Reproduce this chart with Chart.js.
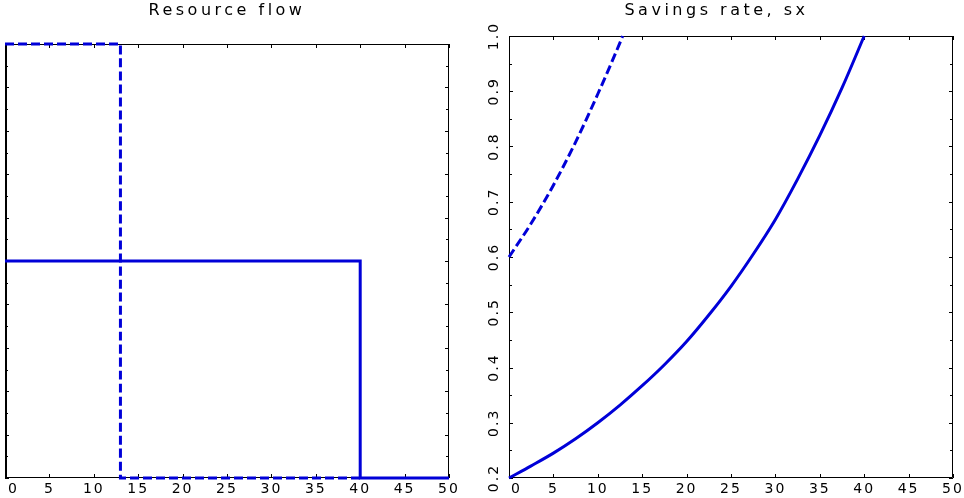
<!DOCTYPE html>
<html><head><meta charset="utf-8">
<script src="https://cdn.jsdelivr.net/npm/chart.js@4/dist/chart.umd.min.js"></script>
<style>
html,body{margin:0;padding:0;background:#fff;}
#c1{position:absolute;left:0;top:0;}
#c2{position:absolute;left:480px;top:0;}
</style></head><body>
<canvas id="c1" width="480" height="498"></canvas>
<canvas id="c2" width="484" height="498"></canvas>
<script>
// ---- data ----
const xTickLabels = [0, 5, 10, 15, 20, 25, 30, 35, 40, 45, 50];
const titleLeft = 'Resource flow';
const titleRight = 'Savings rate, sx';

const flowSolidX = [0, 40, 40, 50];
const flowSolidY = [0.5, 0.5, 0, 0];
const flowDashX = [0, 13, 13, 40];
const flowDashY = [1, 1, 0, 0];

const saveSolidX = [0, 2.5, 5, 7.5, 10, 12.5, 15, 17.5, 20, 22.5, 25, 27.5, 30, 32.5, 35, 37.5, 40];
const saveSolidY = [0.200, 0.222, 0.245, 0.271, 0.300, 0.332, 0.367, 0.405, 0.447, 0.495, 0.547, 0.605, 0.668, 0.741, 0.820, 0.906, 1.000];
const saveDashX = [0, 2.5, 5, 7.5, 10, 12.5, 12.8];
const saveDashY = [0.600, 0.661, 0.730, 0.808, 0.895, 0.988, 1.000];

const yTicksRight = [0.2, 0.3, 0.4, 0.5, 0.6, 0.7, 0.8, 0.9, 1.0];

const zip = (xs, ys) => xs.map((x, i) => ({x: x, y: ys[i]}));

const BLUE = '#0000d8';
const FONT = "'DejaVu Sans', sans-serif";

const framePlugin = {
  id: 'framePlugin',
  afterInit(chart) {
    const tb = chart.titleBlock;
    if (tb && !tb._wrapped) {
      const orig = tb.draw.bind(tb);
      tb.draw = function () {
        const c = chart.ctx; c.save(); c.letterSpacing = '3.5px'; orig(); c.restore();
      };
      tb._wrapped = true;
    }
  },
  beforeDraw(chart, args, opts) {
    chart.ctx.letterSpacing = '2px';
    // nudge the first x label to the right so it sits inside the frame, as in the reference
    const items = chart.scales.x.getLabelItems();
    if (items.length && !items[0]._nudged) {
      items[0].options.textAlign = 'left';
      items[0].options.translation[0] += (opts.firstShift || 2);
      items[0]._nudged = true;
    }
  },
  beforeDatasetsDraw(chart, args, opts) {
    const {ctx, chartArea: a, scales: {x, y}} = chart;
    ctx.save();
    ctx.strokeStyle = '#000';
    ctx.lineWidth = 1;
    const xt = x.ticks.map(t => t.value);
    for (const v of xt) {
      const px = Math.round(x.getPixelForValue(v)) + 0.5;
      ctx.beginPath();
      ctx.moveTo(px, a.bottom); ctx.lineTo(px, a.bottom - 4);
      ctx.moveTo(px, a.top); ctx.lineTo(px, a.top + 4);
      ctx.stroke();
    }
    const yt = y.ticks.map(t => t.value);
    const drawY = (v, len) => {
      const py = Math.round(y.getPixelForValue(v)) + 0.5;
      ctx.beginPath();
      ctx.moveTo(a.left, py); ctx.lineTo(a.left + len, py);
      ctx.moveTo(a.right, py); ctx.lineTo(a.right - len, py);
      ctx.stroke();
    };
    for (let i = 0; i < yt.length; i++) {
      drawY(yt[i], 4);
      if (i < yt.length - 1) drawY((yt[i] + yt[i + 1]) / 2, 3);
    }
    ctx.beginPath();
    ctx.moveTo(Math.round(a.left) + 0.5, Math.round(a.top) + 0.5);
    ctx.lineTo(Math.round(a.right) - 0.5, Math.round(a.top) + 0.5);
    ctx.lineTo(Math.round(a.right) - 0.5, Math.round(a.bottom) - 0.5);
    ctx.lineTo(Math.round(a.left) + 0.5, Math.round(a.bottom) - 0.5);
    ctx.closePath();
    ctx.stroke();
    if (opts.leftWidth) {
      ctx.lineWidth = opts.leftWidth;
      ctx.beginPath();
      ctx.moveTo(a.left + opts.leftWidth / 2, a.top);
      ctx.lineTo(a.left + opts.leftWidth / 2, a.bottom);
      ctx.stroke();
    }
    ctx.restore();
  }
};

function lineDs(data, dashed) {
  return {
    data: data,
    showLine: true,
    borderColor: BLUE,
    backgroundColor: BLUE,
    borderWidth: 3,
    borderDash: dashed ? [9, 4] : [],
    pointRadius: 0,
    cubicInterpolationMode: 'monotone',
    clip: false
  };
}

function xScale() {
  return {
    type: 'linear', min: 0, max: 50,
    afterBuildTicks: s => { s.ticks = xTickLabels.map(v => ({value: v})); },
    grid: {display: false, drawTicks: false}, border: {display: false},
    ticks: {color: '#000', font: {family: FONT, size: 14}, padding: 3, autoSkip: false, maxRotation: 0},
    afterFit: s => { s.height = 20; s.paddingLeft = 0; s.paddingRight = 0; }
  };
}

new Chart(document.getElementById('c1'), {
  type: 'scatter',
  data: {datasets: [lineDs(zip(flowSolidX, flowSolidY), false), lineDs(zip(flowDashX, flowDashY), true)]},
  options: {
    responsive: false, animation: false, devicePixelRatio: 1,
    layout: {padding: {left: 5, right: 31, top: 0, bottom: 0}},
    plugins: {
      legend: {display: false}, tooltip: {enabled: false},
      title: {display: true, text: titleLeft, color: '#000', font: {family: FONT, size: 16, weight: 'normal', lineHeight: 1.2}, padding: {top: 1, bottom: 23.8}},
      framePlugin: {leftWidth: 2, firstShift: 3}
    },
    scales: {
      x: xScale(),
      y: {
        type: 'linear', min: 0, max: 1,
        ticks: {display: false, stepSize: 0.1},
        grid: {display: false, drawTicks: false}, border: {display: false},
        afterFit: s => { s.width = 0; }
      }
    }
  },
  plugins: [framePlugin]
});

new Chart(document.getElementById('c2'), {
  type: 'scatter',
  data: {datasets: [lineDs(zip(saveSolidX, saveSolidY), false), lineDs(zip(saveDashX, saveDashY), true)]},
  options: {
    responsive: false, animation: false, devicePixelRatio: 1,
    layout: {padding: {left: 0, right: 11, top: 0, bottom: 0}},
    plugins: {
      legend: {display: false}, tooltip: {enabled: false},
      title: {display: true, text: titleRight, color: '#000', font: {family: FONT, size: 16, weight: 'normal', lineHeight: 1.2}, padding: {top: 1, bottom: 15.8}},
      framePlugin: {firstShift: 2}
    },
    scales: {
      x: xScale(),
      y: {
        type: 'linear', min: 0.2, max: 1.0,
        afterBuildTicks: s => { s.ticks = yTicksRight.map(v => ({value: v})); },
        ticks: {color: '#000', font: {family: FONT, size: 14}, minRotation: 90, maxRotation: 90, autoSkip: false,
                crossAlign: 'center', padding: 4, callback: v => Number(v).toFixed(1)},
        grid: {display: false, drawTicks: false}, border: {display: false},
        afterFit: s => { s.width = 29; }
      }
    }
  },
  plugins: [framePlugin]
});
</script>
</body></html>
